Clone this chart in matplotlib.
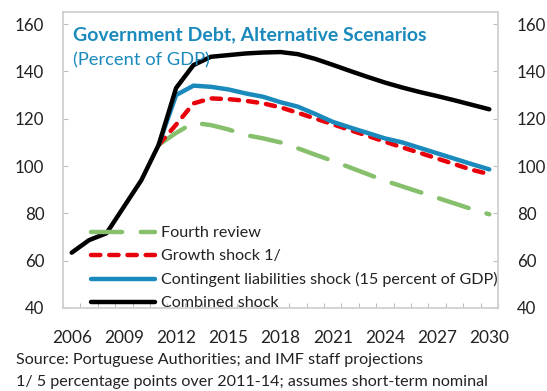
import matplotlib
matplotlib.use("Agg")
import matplotlib.pyplot as plt
import numpy as np

plt.rcParams['font.family'] = ['Lato', 'DejaVu Sans']

# Government debt, percent of GDP
years = list(range(2006, 2031))
proj_years = list(range(2011, 2031))

combined_shock = [63.4, 68.7, 71.6, 82.8, 94.0, 109.0, 133.0, 142.7, 146.2, 146.9,
                  147.6, 148.0, 148.2, 147.3, 145.3, 142.8, 140.2, 137.7, 135.3, 133.2,
                  131.3, 129.6, 127.8, 125.9, 124.0]
contingent_shock = [109.0, 130.0, 134.0, 133.5, 132.4, 130.7, 129.3, 127.0, 125.1, 122.0,
                    118.7, 116.3, 114.0, 111.7, 110.0, 107.7, 105.4, 103.1, 100.8, 98.6]
growth_shock = [109.0, 117.5, 126.5, 128.6, 128.3, 127.6, 126.5, 124.8, 122.5, 120.1,
                117.7, 115.2, 112.8, 110.3, 107.9, 105.6, 103.2, 100.8, 98.4, 96.6]
fourth_review = [109.0, 114.0, 118.3, 117.3, 115.5, 113.1, 111.7, 110.0, 107.5, 104.8,
                 102.2, 99.4, 96.6, 93.8, 91.4, 89.0, 86.6, 84.2, 81.8, 79.6]

series_labels = ["Fourth review", "Growth shock 1/",
                 "Contingent liabilities shock (15 percent of GDP)", "Combined shock"]
x_tick_years = list(range(2006, 2031, 3))
y_ticks = [40, 60, 80, 100, 120, 140, 160]

title = "Government Debt, Alternative Scenarios"
subtitle = "(Percent of GDP)"
notes = ["Source: Portuguese Authorities; and IMF staff projections",
         "1/ 5 percentage points over 2011-14; assumes short-term nominal"]

W, H = 547, 391
fig = plt.figure(figsize=(W / 100, H / 100), dpi=100)
ax = fig.add_axes([63 / W, 1 - 308 / H, (498 - 63) / W, (308 - 12.3) / H])

green = '#86c06c'
red = '#e8000b'
blue = '#1a8abd'
lw = 3.2

ax.plot(proj_years, fourth_review, color=green, lw=lw, dashes=(7, 4.2),
        dash_capstyle='round', label=series_labels[0])
ax.plot(proj_years, growth_shock, color=red, lw=lw, dashes=(2.1, 2.0),
        dash_capstyle='round', label=series_labels[1])
ax.plot(proj_years, contingent_shock, color=blue, lw=lw,
        solid_capstyle='round', label=series_labels[2])
ax.plot(years, combined_shock, color='black', lw=lw,
        solid_capstyle='round', label=series_labels[3])

ax.set_xlim(2005.5, 2030.5)
ax.set_ylim(40, 165)

ax.set_xticks(x_tick_years)
ax.set_xticklabels([str(y) for y in x_tick_years])
ax.set_xticks(np.arange(2005.5, 2031, 1), minor=True)
ax.tick_params(axis='x', which='major', length=0, pad=16, labelsize=12.4, colors='#222222')
ax.tick_params(axis='x', which='minor', direction='in', length=3.6, width=0.8, color='#bfbfbf')

ax.set_yticks(y_ticks)
ax.tick_params(axis='y', which='major', direction='in', length=3.6, width=0.8,
               color='#bfbfbf', labelsize=12.2, labelcolor='#222222',
               left=True, right=True, labelleft=True, labelright=True, pad=13.5)

for s in ax.spines.values():
    s.set_color('#d0d0d0')
    s.set_linewidth(1.3)

leg = ax.legend(loc='lower left', bbox_to_anchor=(28 / 435, -0.008), frameon=False,
                fontsize=11.6, handlelength=4.0, handletextpad=0.35,
                labelspacing=0.55, borderpad=0, borderaxespad=0)
for t in leg.get_texts():
    t.set_color('#222222')

fig.text(73 / W, 1 - 40 / H, title, color=blue, fontsize=14.0, fontweight='bold',
         va='baseline', ha='left')
fig.text(73 / W, 1 - 65 / H, subtitle, color=blue, fontsize=13.2,
         va='baseline', ha='left', zorder=5)

fig.text(16 / W, 1 - 364 / H, notes[0], fontsize=11.6, color='#222222', va='baseline')
fig.text(16 / W, 1 - 386 / H, notes[1], fontsize=11.6, color='#222222', va='baseline')

fig.savefig('out.png', dpi=100)
